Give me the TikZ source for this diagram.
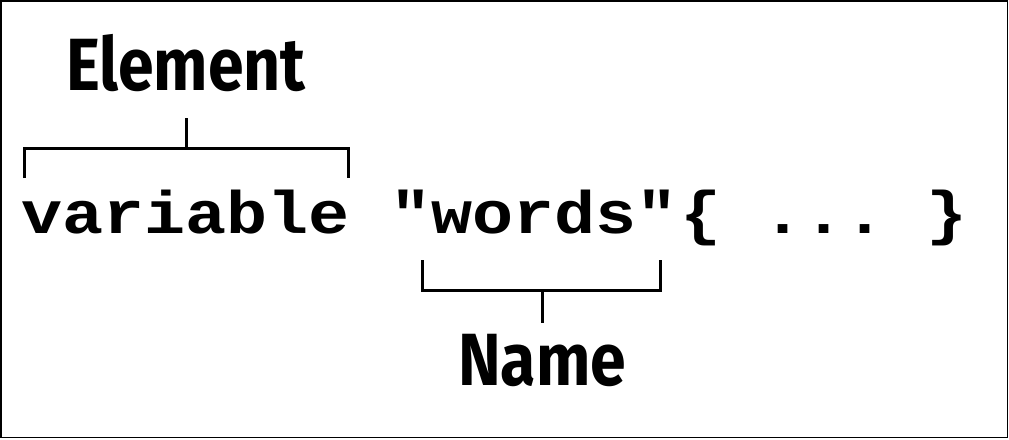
\documentclass[tikz,border=0pt]{standalone}
\usepackage{fontspec}
\newfontfamily\codefont{Liberation Mono}[FakeStretch=1.14]
\newfontfamily\labelfont{Fira Sans}[FakeStretch=0.87]

\begin{document}
\begin{tikzpicture}[x=1pt,y=-1pt,
        code/.style={inner sep=0pt, anchor=base west, font=\codefont\bfseries\fontsize{60}{60}\selectfont},
        label text/.style={inner sep=0pt, anchor=base, font=\labelfont\bfseries\fontsize{74}{74}\selectfont},
        bracket line/.style={line width=3pt, line join=miter}]
  \useasboundingbox (0,0) rectangle (1009,439);
  \draw[line width=1.5pt] (1,1) rectangle (1007.5,437.5);

  % the code line
  \node[code] (var)   at (21,233)  {variable};
  \node[code] (words) at (390,233) {"words"};
  \node[code] (body)  at (680,233) {\{\phantom{.}...\phantom{.}\}};

  % labels
  \node[label text] (element) at (186,90)  {Element};
  \node[label text] (name)    at (542,385) {Name};

  % brackets
  \coordinate (el-l) at (24,178);  \coordinate (el-r) at (348,178);
  \coordinate (el-top) at (24,148);
  \draw[bracket line] (el-l) -- ++(0,-30) -| (el-r);
  \draw[bracket line] ([yshift=-27pt]element.south) -- (element.south |- el-top);

  \coordinate (nm-l) at (422,260); \coordinate (nm-r) at (660,260);
  \coordinate (nm-bot) at (422,290);
  \draw[bracket line] (nm-l) -- ++(0,30) -| (nm-r);
  \draw[bracket line] ([yshift=11pt]name.north) -- (name.north |- nm-bot);
\end{tikzpicture}
\end{document}
